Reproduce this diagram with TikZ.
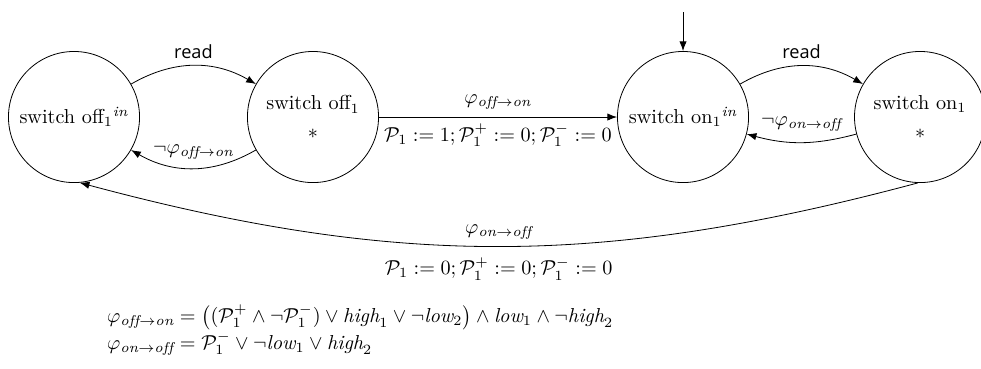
\documentclass[tikz,border=0pt]{standalone}
\usepackage{amsmath}
\usepackage{fontspec}
\usepackage{tikz}
\usetikzlibrary{arrows.meta,positioning}
\newfontfamily\readfont{Open Sans}

\begin{document}
\begin{tikzpicture}[>={Latex},
    loc/.style={circle, draw, minimum size=2.28cm, inner sep=0pt, align=center},
    lbl/.style={font=\normalsize}]
  \useasboundingbox (0,0) rectangle (17.06,-6.417);
  % states
  \node[loc] (off1in) at (1.287,-2.035) {\mbox{switch off$_1$}$^{\mathit{in}}$};
  \node[loc] (off1) at (5.443,-2.035) {switch off$_1$\\[2pt] $*$};
  \node[loc] (on1in) at (11.878,-2.035) {\mbox{switch on$_1$}$^{\mathit{in}}$};
  \node[loc] (on1) at (16.0,-2.035) {switch on$_1$\\[2pt] $*$};
  % initial
  \coordinate (init) at (11.878,-0.21);
  \draw[->] (init) -- (on1in);
  % off side
  \draw[->] (off1in) to[bend left=30] node[above]{\readfont\small read} (off1);
  \draw[->] (off1) to[bend left=30]
    node[above=1pt]{$\neg\varphi_{\mathit{off}\to\mathit{on}}$} (off1in);
  \draw[->] (off1) -- node[above]{$\varphi_{\mathit{off}\to\mathit{on}}$}
    node[below]{$\mathcal{P}_1 := 1; \mathcal{P}_1^+ := 0; \mathcal{P}_1^- := 0$} (on1in);
  % on side
  \draw[->] (on1in) to[bend left=30] node[above]{\readfont\small read} (on1);
  \draw[->] (on1) to[bend left=15]
    node[above=2pt]{$\neg\varphi_{\mathit{on}\to\mathit{off}}$} (on1in);
  \draw[->] (on1.-92) to[bend left=15] node[above]{$\varphi_{\mathit{on}\to\mathit{off}}$}
    node[below=2pt]{$\mathcal{P}_1 := 0; \mathcal{P}_1^+ := 0; \mathcal{P}_1^- := 0$} (off1in.-85);
  % guards
  \node[anchor=west, align=left] (guards) at (1.74,-5.74)
    {$\varphi_{\mathit{off}\to\mathit{on}} = \bigl((\mathcal{P}_1^+ \land \neg\mathcal{P}_1^-) \lor \mathit{high}_1 \lor \neg\mathit{low}_2\bigr) \land \mathit{low}_1 \land \neg\mathit{high}_2$\\
     $\varphi_{\mathit{on}\to\mathit{off}} = \mathcal{P}_1^- \lor \neg\mathit{low}_1 \lor \mathit{high}_2$};
\end{tikzpicture}
\end{document}
